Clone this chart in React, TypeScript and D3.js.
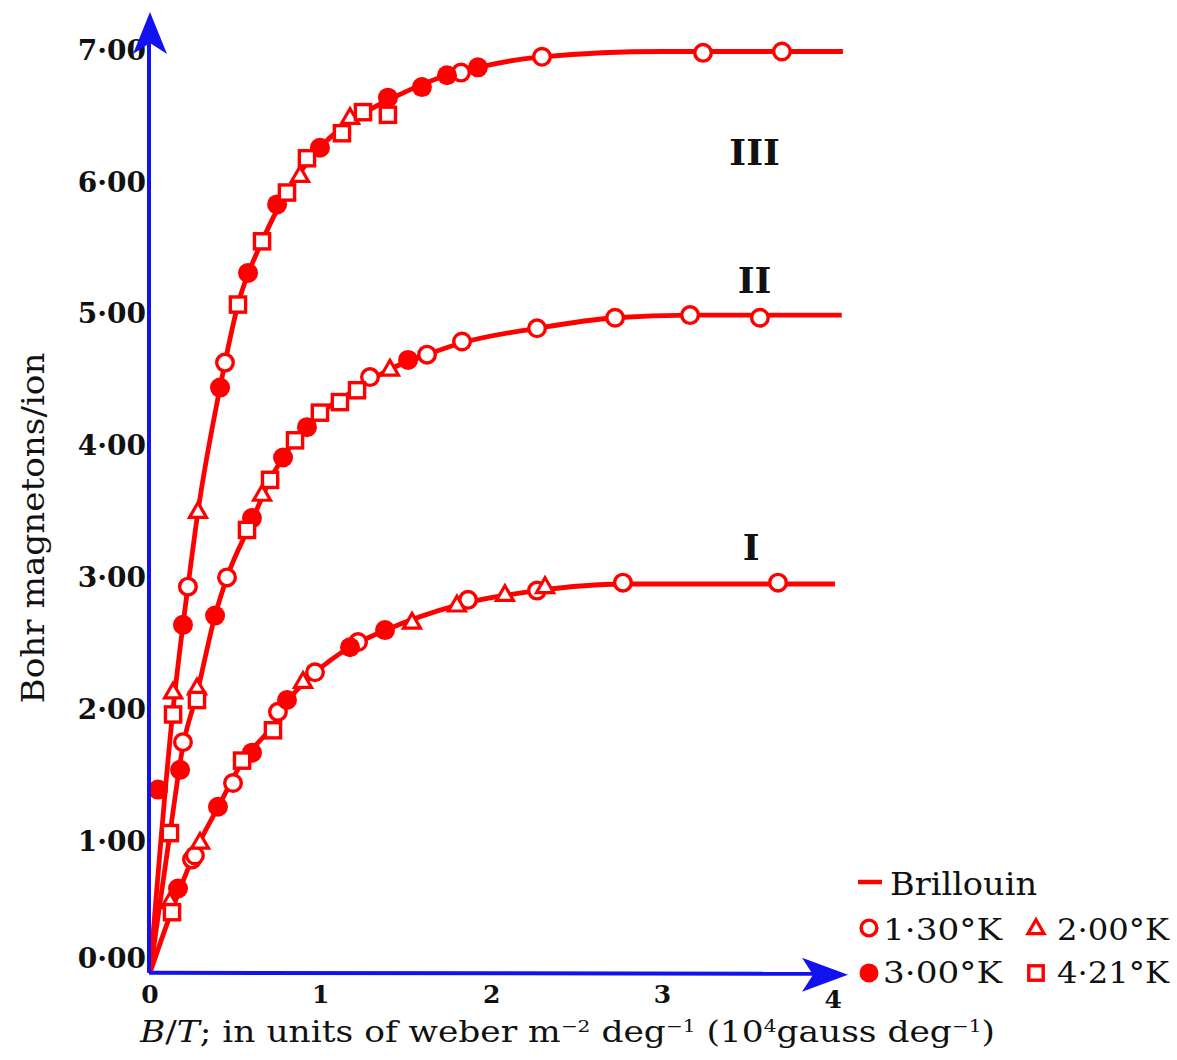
import React from 'react';
import * as d3 from 'd3';

type P = [number, number];

// ---- data: B/T (units) vs Bohr magnetons/ion ----
// Curve I
const curveI_T130: P[] = [[0.246,0.86],[0.263,0.89],[0.486,1.44],[0.749,1.98],[0.966,2.28],[1.218,2.51],[1.862,2.83],[2.266,2.90],[2.769,2.96],[3.677,2.96]];
const curveI_T200: P[] = [[0.117,0.54],[0.293,0.99],[0.896,2.21],[1.534,2.66],[1.797,2.79],[2.078,2.87],[2.313,2.93]];
const curveI_T300: P[] = [[0.164,0.64],[0.398,1.26],[0.597,1.67],[0.802,2.07],[1.171,2.47],[1.376,2.60]];
const curveI_T421: P[] = [[0.129,0.46],[0.539,1.61],[0.720,1.84]];
// Curve II
const curveII_T130: P[] = [[0.193,1.75],[0.451,3.00],[1.288,4.52],[1.622,4.69],[1.827,4.79],[2.266,4.89],[2.723,4.97],[3.162,4.99],[3.571,4.97]];
const curveII_T200: P[] = [[0.275,2.16],[0.656,3.63],[1.405,4.58]];
const curveII_T300: P[] = [[0.176,1.54],[0.381,2.71],[0.597,3.45],[0.779,3.91],[0.919,4.14],[1.511,4.65]];
const curveII_T421: P[] = [[0.117,1.06],[0.275,2.07],[0.568,3.36],[0.703,3.74],[0.849,4.04],[0.995,4.25],[1.112,4.33],[1.212,4.42]];
// Curve III
const curveIII_T130: P[] = [[0.222,2.93],[0.439,4.63],[1.821,6.83],[2.295,6.95],[3.238,6.98],[3.700,6.99]];
const curveIII_T200: P[] = [[0.135,2.13],[0.281,3.50],[0.878,6.05],[1.171,6.49]];
const curveIII_T300: P[] = [[0.047,1.39],[0.193,2.64],[0.410,4.44],[0.574,5.31],[0.744,5.83],[0.995,6.26],[1.393,6.64],[1.592,6.72],[1.739,6.81],[1.920,6.87]];
const curveIII_T421: P[] = [[0.135,1.96],[0.515,5.07],[0.656,5.55],[0.802,5.92],[0.919,6.18],[1.124,6.37],[1.247,6.53],[1.393,6.51]];

// Brillouin curves (as drawn)
const brillouinI: P[] = [[0,0],[0.13,0.48],[0.29,0.99],[0.40,1.26],[0.54,1.60],[0.72,1.88],[0.80,2.05],[0.97,2.28],[1.17,2.47],[1.38,2.60],[1.80,2.79],[2.27,2.90],[2.77,2.95],[4.01,2.95]];
const brillouinII: P[] = [[0,0],[0.117,1.06],[0.193,1.72],[0.275,2.12],[0.381,2.71],[0.451,3.00],[0.597,3.43],[0.703,3.74],[0.849,4.04],[0.995,4.24],[1.212,4.43],[1.405,4.58],[1.622,4.69],[1.827,4.78],[2.266,4.89],[2.723,4.97],[3.162,4.99],[4.05,4.99]];
const brillouinIII: P[] = [[0,0],[0.135,2.0],[0.193,2.64],[0.222,2.93],[0.281,3.50],[0.41,4.44],[0.515,5.07],[0.656,5.55],[0.802,5.92],[0.995,6.26],[1.247,6.52],[1.393,6.62],[1.739,6.81],[1.92,6.87],[2.295,6.95],[3.0,6.99],[4.057,6.99]];

const curveNames = ['I', 'II', 'III'];
const curveNamePos: P[] = [[3.52, 3.13], [3.54, 5.16], [3.54, 6.13]];
const tempLabels = ['1·30°K', '2·00°K', '3·00°K', '4·21°K'];
const xTicks = [0, 1, 2, 3, 4];
const yTicks = [0, 1, 2, 3, 4, 5, 6, 7];

const RED = '#ff0000';
const BLUE = '#1212f0';
const SERIF = '"DejaVu Serif", "Liberation Serif", serif';

const x = d3.scaleLinear().domain([0, 4]).range([150, 833.2]);
const y = d3.scaleLinear().domain([0, 7]).range([972.8, 50.2]);

type Kind = 'open' | 'tri' | 'filled' | 'square';
const kinds: Kind[] = ['open', 'tri', 'filled', 'square'];

function Marker({ kind, cx, cy, s = 1 }: { kind: Kind; cx: number; cy: number; s?: number }) {
  if (kind === 'open') return <circle cx={cx} cy={cy} r={8.3 * s} fill="#fff" stroke={RED} strokeWidth={3.4} />;
  if (kind === 'filled') return <circle cx={cx} cy={cy} r={10 * s} fill={RED} />;
  if (kind === 'square') {
    const h = 7.6 * s;
    return <rect x={cx - h} y={cy - h} width={2 * h} height={2 * h} fill="#fff" stroke={RED} strokeWidth={3.4} />;
  }
  const p = d3.symbol(d3.symbolTriangle, 125 * s * s)();
  return <path d={p || ''} transform={`translate(${cx},${cy + 1})`} fill="#fff" stroke={RED} strokeWidth={3.2} strokeLinejoin="miter" />;
}

const groups: { kind: Kind; pts: P[] }[] = [
  { kind: 'open', pts: curveI_T130 }, { kind: 'tri', pts: curveI_T200 }, { kind: 'filled', pts: curveI_T300 }, { kind: 'square', pts: curveI_T421 },
  { kind: 'open', pts: curveII_T130 }, { kind: 'tri', pts: curveII_T200 }, { kind: 'filled', pts: curveII_T300 }, { kind: 'square', pts: curveII_T421 },
  { kind: 'open', pts: curveIII_T130 }, { kind: 'tri', pts: curveIII_T200 }, { kind: 'filled', pts: curveIII_T300 }, { kind: 'square', pts: curveIII_T421 },
];

const fmt = (v: number) => d3.format('.2f')(v).replace('.', '·');

export default function App() {
  const line = d3.line<P>().x(d => x(d[0])).y(d => y(d[1])).curve(d3.curveMonotoneX);
  const x0 = x(0) - 1;
  const yAxisY = y(0);
  return (
    <svg width={1177} height={1060} style={{ position: 'absolute', left: 0, top: 0, background: '#fff' }} fontFamily={SERIF}>
      <rect x={0} y={0} width={1177} height={1060} fill="#fff" />
      {/* y tick labels */}
      {yTicks.map(t => (
        <text key={t} x={146} y={t === 0 ? y(t) - 14 : y(t)} dominantBaseline="central" textAnchor="end" fontSize={28} fontWeight="bold" fill="#111">{fmt(t)}</text>
      ))}
      {/* x tick labels */}
      {xTicks.map(t => (
        <text key={t} x={x(t)} y={t === 4 ? 1008 : 1003} textAnchor="middle" fontSize={25} fontWeight="bold" fill="#111">{String(t)}</text>
      ))}
      {/* Brillouin curves */}
      {[brillouinI, brillouinII, brillouinIII].map((c, i) => (
        <path key={i} d={line(c) || ''} fill="none" stroke={RED} strokeWidth={4.8} strokeLinejoin="round" />
      ))}
      {/* data markers */}
      {groups.map((g, gi) => g.pts.map((p, pi) => (
        <Marker key={`${gi}-${pi}`} kind={g.kind} cx={x(p[0])} cy={y(p[1])} />
      )))}
      {/* axes */}
      <line x1={x0} y1={yAxisY} x2={x0} y2={40} stroke={BLUE} strokeWidth={4} />
      <path d={`M${x0 + 1},12 L${x0 + 18},54 L${x0 + 1},43 L${x0 - 16},54 Z`} fill={BLUE} />
      <line x1={x0} y1={yAxisY} x2={815} y2={yAxisY + 1} stroke={BLUE} strokeWidth={4} />
      <path d={`M848,${yAxisY + 2} L802,${yAxisY - 15} L813,${yAxisY + 2} L802,${yAxisY + 19} Z`} fill={BLUE} />
      {/* curve names */}
      {curveNames.map((n, i) => (
        <text key={n} x={x(curveNamePos[i][0])} y={y(curveNamePos[i][1])} textAnchor="middle" fontSize={36} fontWeight="bold" fill="#111">{n}</text>
      ))}
      {/* axis titles */}
      <text transform="translate(44,528) rotate(-90)" textAnchor="middle" fontSize={31} fill="#111" textLength={351} lengthAdjust="spacingAndGlyphs">Bohr magnetons/ion</text>
      <text x={140} y={1042} fontSize={29} fill="#111" textLength={855} lengthAdjust="spacingAndGlyphs">
        <tspan fontStyle="italic">B</tspan><tspan>/</tspan><tspan fontStyle="italic">T</tspan><tspan>; in units of weber m</tspan>
        <tspan fontSize={17} dy={-10}>−2</tspan>
        <tspan dy={10}>  deg</tspan>
        <tspan fontSize={17} dy={-10}>−1</tspan>
        <tspan dy={10}> (10</tspan>
        <tspan fontSize={17} dy={-10}>4</tspan>
        <tspan dy={10}>gauss deg</tspan>
        <tspan fontSize={17} dy={-10}>−1</tspan>
        <tspan dy={10}>)</tspan>
      </text>
      {/* legend */}
      <line x1={858} y1={882} x2={882} y2={882} stroke={RED} strokeWidth={4.5} />
      <text x={890} y={895} fontSize={31} fill="#111" textLength={147} lengthAdjust="spacingAndGlyphs">Brillouin</text>
      {tempLabels.map((lab, i) => {
        const col = i % 2 === 0 ? 0 : 1;
        const row = i < 2 ? 0 : 1;
        const mx = col === 0 ? 869 : 1036;
        const my = row === 0 ? 928 : 973;
        const tx = col === 0 ? 883 : 1057;
        const ty = row === 0 ? 940 : 983;
        return (
          <g key={lab}>
            <Marker kind={kinds[i]} cx={mx} cy={my} s={0.95} />
            <text x={tx} y={ty} fontSize={30} fill="#111" textLength={col === 0 ? 119 : 112} lengthAdjust="spacingAndGlyphs">{lab}</text>
          </g>
        );
      })}
    </svg>
  );
}
